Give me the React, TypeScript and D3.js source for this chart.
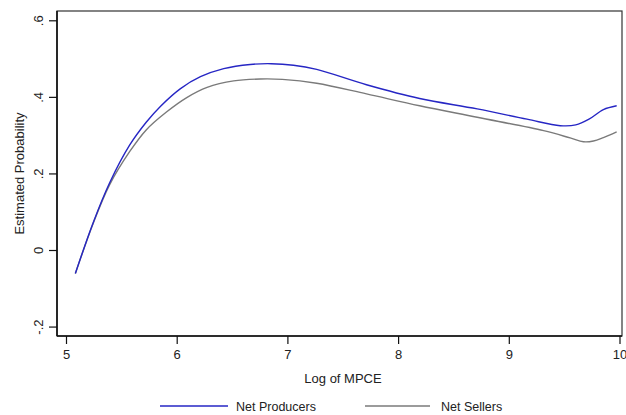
import React, { useRef, useEffect } from 'react';
import * as d3 from 'd3';

// Log of MPCE at which each curve was read
const producerX = [5.08, 5.24, 5.39, 5.57, 5.72, 5.85, 6.03, 6.21, 6.42, 6.66, 6.85, 7.05, 7.26, 7.71, 8.19, 8.71, 9.16, 9.46, 9.6, 9.72, 9.85, 9.97];
const producerY = [-0.06, 0.072, 0.177, 0.275, 0.335, 0.377, 0.423, 0.454, 0.475, 0.486, 0.488, 0.484, 0.473, 0.433, 0.397, 0.37, 0.343, 0.326, 0.328, 0.343, 0.368, 0.378];

const sellerX = [5.08, 5.24, 5.39, 5.57, 5.72, 5.9, 6.09, 6.27, 6.51, 6.75, 6.95, 7.26, 7.71, 8.19, 8.71, 9.31, 9.55, 9.67, 9.76, 9.85, 9.97];
const sellerY = [-0.06, 0.07, 0.172, 0.258, 0.315, 0.361, 0.4, 0.426, 0.443, 0.448, 0.447, 0.437, 0.409, 0.378, 0.348, 0.313, 0.294, 0.284, 0.286, 0.295, 0.31];

const xTicks = [5, 6, 7, 8, 9, 10];
const yTicks = [-0.2, 0, 0.2, 0.4, 0.6];
const yTickLabels = ['-.2', '0', '.2', '.4', '.6'];

const seriesNames = ['Net Producers', 'Net Sellers'];
const seriesColors = ['#2626c4', '#7a7a7a'];

const W = 626;
const H = 415;

const App: React.FC = () => {
    const svgRef = useRef<SVGSVGElement>(null);

    useEffect(() => {
        if (!svgRef.current) return;
        const svg = d3.select(svgRef.current);
        svg.selectAll('*').remove();

        const box = { left: 57, right: 622, top: 11, bottom: 336 };
        const font = '"Liberation Sans", Arial, sans-serif';

        const x = d3.scaleLinear().domain([5, 10]).range([66.5, 620]);
        const y = d3.scaleLinear().domain([0, 0.6]).range([250.5, 20.8]);

        svg.append('rect')
            .attr('width', W).attr('height', H).attr('fill', '#fff');

        // plot region outline
        svg.append('rect')
            .attr('x', box.left).attr('y', box.top)
            .attr('width', box.right - box.left).attr('height', box.bottom - box.top)
            .attr('fill', 'none').attr('stroke', '#333').attr('stroke-width', 1.2);
        svg.append('line')
            .attr('x1', box.left).attr('x2', box.left)
            .attr('y1', box.top).attr('y2', box.bottom)
            .attr('stroke', '#111').attr('stroke-width', 1.6);
        svg.append('line')
            .attr('x1', box.left).attr('x2', box.right)
            .attr('y1', box.bottom).attr('y2', box.bottom)
            .attr('stroke', '#111').attr('stroke-width', 1.6);

        // y axis ticks
        const yg = svg.append('g');
        yTicks.forEach((t, i) => {
            yg.append('line')
                .attr('x1', box.left - 8).attr('x2', box.left)
                .attr('y1', y(t)).attr('y2', y(t))
                .attr('stroke', '#111').attr('stroke-width', 1.2);
            yg.append('text')
                .attr('transform', `translate(${box.left - 14},${y(t)}) rotate(-90)`)
                .attr('text-anchor', 'middle')
                .attr('font-family', font).attr('font-size', 13).attr('fill', '#222')
                .text(yTickLabels[i]);
        });

        // x axis ticks
        const xg = svg.append('g');
        xTicks.forEach(t => {
            xg.append('line')
                .attr('x1', x(t)).attr('x2', x(t))
                .attr('y1', box.bottom).attr('y2', box.bottom + 8)
                .attr('stroke', '#111').attr('stroke-width', 1.2);
            xg.append('text')
                .attr('x', x(t)).attr('y', box.bottom + 23)
                .attr('text-anchor', 'middle')
                .attr('font-family', font).attr('font-size', 13).attr('fill', '#222')
                .text(t);
        });

        // axis titles
        svg.append('text')
            .attr('x', 343).attr('y', 383)
            .attr('text-anchor', 'middle')
            .attr('font-family', font).attr('font-size', 13).attr('fill', '#222')
            .text('Log of MPCE');
        svg.append('text')
            .attr('transform', `translate(24,${(box.top + box.bottom) / 2}) rotate(-90)`)
            .attr('text-anchor', 'middle')
            .attr('font-family', font).attr('font-size', 13).attr('fill', '#222')
            .text('Estimated Probability');

        // curves
        const line = d3.line<[number, number]>()
            .x(d => x(d[0]))
            .y(d => y(d[1]))
            .curve(d3.curveCatmullRom.alpha(0.5));

        const series: [number, number][][] = [
            producerX.map((v, i) => [v, producerY[i]]),
            sellerX.map((v, i) => [v, sellerY[i]]),
        ];

        // draw sellers first so producers sit on top
        [1, 0].forEach(k => {
            svg.append('path')
                .datum(series[k])
                .attr('d', line)
                .attr('fill', 'none')
                .attr('stroke', seriesColors[k])
                .attr('stroke-width', 1.4);
        });

        // legend
        const legendY = 406;
        const legendItems = [
            { x1: 160, x2: 228, tx: 236 },
            { x1: 365, x2: 430, tx: 441 },
        ];
        legendItems.forEach((it, k) => {
            svg.append('line')
                .attr('x1', it.x1).attr('x2', it.x2)
                .attr('y1', legendY).attr('y2', legendY)
                .attr('stroke', seriesColors[k]).attr('stroke-width', 1.6);
            svg.append('text')
                .attr('x', it.tx).attr('y', legendY + 4.5)
                .attr('font-family', font).attr('font-size', 12.5).attr('fill', '#222')
                .text(seriesNames[k]);
        });
    }, []);

    return (
        <svg
            ref={svgRef}
            width={W}
            height={H}
            style={{ position: 'absolute', left: 0, top: 0 }}
        />
    );
};

export default App;
